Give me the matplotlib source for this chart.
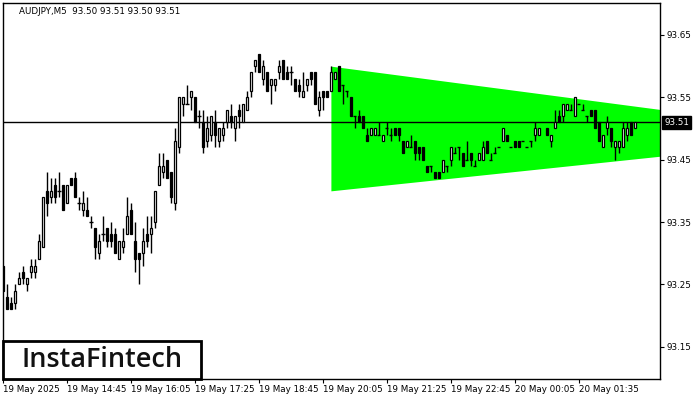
import matplotlib
matplotlib.use("Agg")
import matplotlib.pyplot as plt
from matplotlib.patches import Rectangle
import numpy as np

nan = np.nan

# AUDJPY M5 candles, one per 5-minute bar starting 19 May 2025 13:25
open_ = [
    93.28, 93.23, 93.22, 93.22, 93.25, 93.27, 93.25, 93.27, 93.27, 93.29,
    93.31, 93.40, 93.39, 93.41, 93.40, 93.41, 93.38, 93.42, 93.42, 93.38,
    93.37, 93.37, 93.35, 93.34, 93.30, 93.33, 93.34, 93.33, 93.33, 93.29,
    93.31, 93.33, 93.37, 93.32, 93.30, 93.30, 93.33, 93.33, 93.35, 93.41,
    93.43, 93.45, 93.43, 93.38, 93.47, 93.54, 93.54, 93.55, 93.55, 93.52,
    93.51, 93.48, 93.49, 93.51, 93.48, 93.49, 93.51, 93.52, 93.50, 93.53,
    93.51, 93.53, 93.56, 93.60, 93.62, 93.58, 93.59, 93.57, 93.57, 93.59,
    93.61, 93.59, 93.59, 93.58, 93.57, 93.55, 93.57, 93.59, 93.59, 93.53,
    93.56, 93.56, 93.56, 93.58, 93.60, 93.57, 93.56, 93.55, 93.52, 93.52,
    93.52, 93.49, 93.49, 93.49, 93.49, 93.48, 93.50, 93.49, 93.50, 93.50,
    93.48, 93.47, 93.47, 93.48, 93.47, 93.47, 93.44, 93.44, 93.43, 93.43,
    93.43, 93.44, 93.45, 93.46, 93.47, 93.46, 93.45, 93.46, 93.44, 93.45,
    93.45, 93.48, 93.45, 93.46, 93.47, 93.48, 93.49, 93.47, 93.48, 93.48,
    93.48, 93.47, 93.48, 93.49, 93.49, nan, 93.50, 93.48, 93.50, 93.52,
    93.52, 93.53, 93.53, 93.52, 93.54, 93.53, 93.52, 93.53, 93.53, 93.51,
    93.47, 93.50, 93.50, 93.47, 93.47, 93.47, 93.49, 93.51, 93.50,
]
high = [
    93.28, 93.25, 93.23, 93.25, 93.27, 93.28, 93.26, 93.29, 93.29, 93.33,
    93.39, 93.43, 93.42, 93.42, 93.43, 93.41, 93.41, 93.42, 93.43, 93.39,
    93.40, 93.39, 93.36, 93.34, 93.33, 93.36, 93.34, 93.35, 93.34, 93.32,
    93.34, 93.39, 93.38, 93.35, 93.30, 93.34, 93.36, 93.36, 93.40, 93.46,
    93.46, 93.45, 93.43, 93.50, 93.55, 93.55, 93.57, 93.56, 93.55, 93.53,
    93.53, 93.52, 93.52, 93.53, 93.50, 93.51, 93.53, 93.54, 93.52, 93.54,
    93.54, 93.56, 93.59, 93.61, 93.62, 93.61, 93.59, 93.58, 93.58, 93.61,
    93.61, 93.60, 93.60, 93.58, 93.58, 93.59, 93.58, 93.59, 93.59, 93.56,
    93.56, 93.56, 93.60, 93.59, 93.60, 93.57, 93.56, 93.55, 93.52, 93.53,
    93.52, 93.50, 93.50, 93.50, 93.51, 93.49, 93.51, 93.50, 93.50, 93.50,
    93.48, 93.48, 93.49, 93.48, 93.47, 93.47, 93.44, 93.44, 93.43, 93.43,
    93.45, 93.44, 93.47, 93.47, 93.47, 93.46, 93.48, 93.46, 93.45, 93.46,
    93.48, 93.48, 93.46, 93.47, 93.47, 93.50, 93.49, 93.47, 93.48, 93.48,
    93.48, 93.47, 93.48, 93.51, 93.50, nan, 93.50, 93.49, 93.53, 93.53,
    93.54, 93.54, 93.54, 93.55, 93.54, 93.54, 93.52, 93.53, 93.53, 93.51,
    93.49, 93.52, 93.50, 93.48, 93.48, 93.51, 93.51, 93.51, 93.51,
]
low = [
    93.24, 93.21, 93.21, 93.21, 93.25, 93.25, 93.24, 93.26, 93.26, 93.29,
    93.31, 93.36, 93.38, 93.38, 93.39, 93.37, 93.38, 93.41, 93.39, 93.37,
    93.36, 93.36, 93.34, 93.29, 93.29, 93.32, 93.31, 93.31, 93.30, 93.29,
    93.30, 93.33, 93.33, 93.27, 93.25, 93.28, 93.31, 93.30, 93.34, 93.41,
    93.42, 93.42, 93.38, 93.37, 93.46, 93.52, 93.54, 93.53, 93.51, 93.50,
    93.46, 93.47, 93.48, 93.47, 93.47, 93.48, 93.50, 93.50, 93.48, 93.50,
    93.51, 93.53, 93.55, 93.59, 93.59, 93.57, 93.56, 93.54, 93.56, 93.58,
    93.58, 93.58, 93.57, 93.56, 93.55, 93.55, 93.56, 93.57, 93.54, 93.52,
    93.53, 93.55, 93.56, 93.58, 93.56, 93.54, 93.55, 93.52, 93.50, 93.51,
    93.50, 93.48, 93.49, 93.49, 93.49, 93.48, 93.49, 93.48, 93.49, 93.48,
    93.46, 93.47, 93.47, 93.45, 93.45, 93.45, 93.43, 93.43, 93.42, 93.42,
    93.43, 93.43, 93.44, 93.46, 93.45, 93.44, 93.45, 93.44, 93.44, 93.45,
    93.45, 93.46, 93.45, 93.46, 93.47, 93.48, 93.48, 93.47, 93.47, 93.47,
    93.48, 93.47, 93.47, 93.48, 93.49, nan, 93.49, 93.47, 93.50, 93.51,
    93.51, 93.53, 93.53, 93.52, 93.54, 93.53, 93.51, 93.52, 93.50, 93.48,
    93.47, 93.49, 93.47, 93.45, 93.46, 93.47, 93.48, 93.49, 93.50,
]
close = [
    93.24, 93.21, 93.21, 93.24, 93.26, 93.26, 93.26, 93.28, 93.28, 93.32,
    93.39, 93.38, 93.40, 93.39, 93.40, 93.37, 93.41, 93.41, 93.39, 93.38,
    93.38, 93.36, 93.35, 93.31, 93.32, 93.33, 93.32, 93.32, 93.30, 93.32,
    93.32, 93.36, 93.33, 93.29, 93.29, 93.32, 93.32, 93.34, 93.40, 93.44,
    93.44, 93.42, 93.39, 93.48, 93.55, 93.55, 93.54, 93.56, 93.51, 93.52,
    93.47, 93.50, 93.52, 93.49, 93.50, 93.50, 93.53, 93.51, 93.52, 93.52,
    93.54, 93.55, 93.59, 93.61, 93.59, 93.60, 93.56, 93.58, 93.58, 93.60,
    93.58, 93.58, 93.59, 93.56, 93.56, 93.56, 93.58, 93.58, 93.54, 93.55,
    93.55, 93.55, 93.59, 93.59, 93.56, 93.57, 93.56, 93.52, 93.52, 93.51,
    93.50, 93.48, 93.50, 93.50, 93.49, 93.49, 93.50, 93.49, 93.49, 93.49,
    93.46, 93.48, 93.47, 93.46, 93.46, 93.45, 93.43, 93.44, 93.42, 93.42,
    93.45, 93.44, 93.47, 93.46, 93.47, 93.44, 93.45, 93.45, 93.44, 93.46,
    93.47, 93.46, 93.45, 93.46, 93.47, 93.50, 93.48, 93.47, 93.47, 93.47,
    93.48, 93.47, 93.48, 93.50, 93.50, nan, 93.49, 93.49, 93.51, 93.51,
    93.54, 93.54, 93.53, 93.55, 93.54, 93.53, 93.52, 93.52, 93.50, 93.48,
    93.49, 93.51, 93.48, 93.48, 93.48, 93.50, 93.50, 93.49, 93.51,
]

# symmetrical triangle (bar index -> price at the two ends)
tri_x = [82, 165]
tri_top = [93.60, 93.53]
tri_bottom = [93.40, 93.456]

last_price = 93.51
price_ticks = [93.15, 93.25, 93.35, 93.45, 93.55, 93.65]
time_tick_bars = [0, 16, 32, 48, 64, 80, 96, 112, 128, 144]
time_labels = [
    "19 May 2025", "19 May 14:45", "19 May 16:05", "19 May 17:25", "19 May 18:45",
    "19 May 20:05", "19 May 21:25", "19 May 22:45", "20 May 00:05", "20 May 01:35",
]

o = np.array(open_)
h = np.array(high)
l = np.array(low)
c = np.array(close)
idx = np.arange(len(o))
ok = ~np.isnan(o)

plt.rcParams["font.family"] = ["DejaVu Sans"]

fig = plt.figure(figsize=(7, 4), dpi=100)
ax = fig.add_axes([3 / 700, 21 / 400, 657 / 700, 376 / 400])

ax.fill_between(tri_x, tri_bottom, tri_top, color="#00ff00", linewidth=0, zorder=1)
ax.axhline(last_price, color="black", linewidth=1.0, zorder=2)

ax.vlines(idx[ok], l[ok], h[ok], color="black", linewidth=1.0, zorder=3)

up = ok & (c > o)
down = ok & (c < o)
flat = ok & (c == o)
ax.bar(idx[up], (c - o)[up], bottom=o[up], width=0.5, color="white",
       edgecolor="black", linewidth=0.9, zorder=4)
ax.bar(idx[down], (o - c)[down], bottom=c[down], width=0.5, color="black",
       edgecolor="black", linewidth=0.9, zorder=4)
ax.hlines(c[flat], idx[flat] - 0.4, idx[flat] + 0.4, color="black", linewidth=1.0, zorder=4)

ax.set_xlim(0.07, 164.3)
ax.set_ylim(93.0982, 93.7013)

ax.yaxis.tick_right()
ax.set_yticks(price_ticks)
ax.set_yticklabels([f"{p:.2f}" for p in price_ticks])
ax.set_xticks(time_tick_bars)
ax.set_xticklabels(time_labels, ha="left")
ax.tick_params(axis="both", direction="out", length=3, width=0.8, labelsize=6.3, pad=2)
ax.tick_params(axis="x", pad=1.5)

for spine in ax.spines.values():
    spine.set_linewidth(1.0)
    spine.set_color("black")

# current price tag on the price scale
ax.annotate(f"{last_price:.2f}", xy=(1.0, last_price), xycoords=("axes fraction", "data"),
            xytext=(3, 0), textcoords="offset points", ha="left", va="center",
            fontsize=6.3, color="white",
            bbox=dict(boxstyle="square,pad=0.25", fc="black", ec="black"))

fig.text(19 / 700, 1 - 11 / 400, "AUDJPY,M5  93.50 93.51 93.50 93.51",
         fontsize=6.3, va="center", ha="left")

fig.add_artist(Rectangle((3 / 700, 21 / 400), 198 / 700, 38 / 400, transform=fig.transFigure,
                         facecolor="white", edgecolor="black", linewidth=2, zorder=10))
fig.text(102 / 700, 1 - 360 / 400, "InstaFintech", fontsize=19.5, family="Open Sans",
         weight="semibold", ha="center", va="center", color="#111111", zorder=11)

fig.savefig("out.png", dpi=100)
